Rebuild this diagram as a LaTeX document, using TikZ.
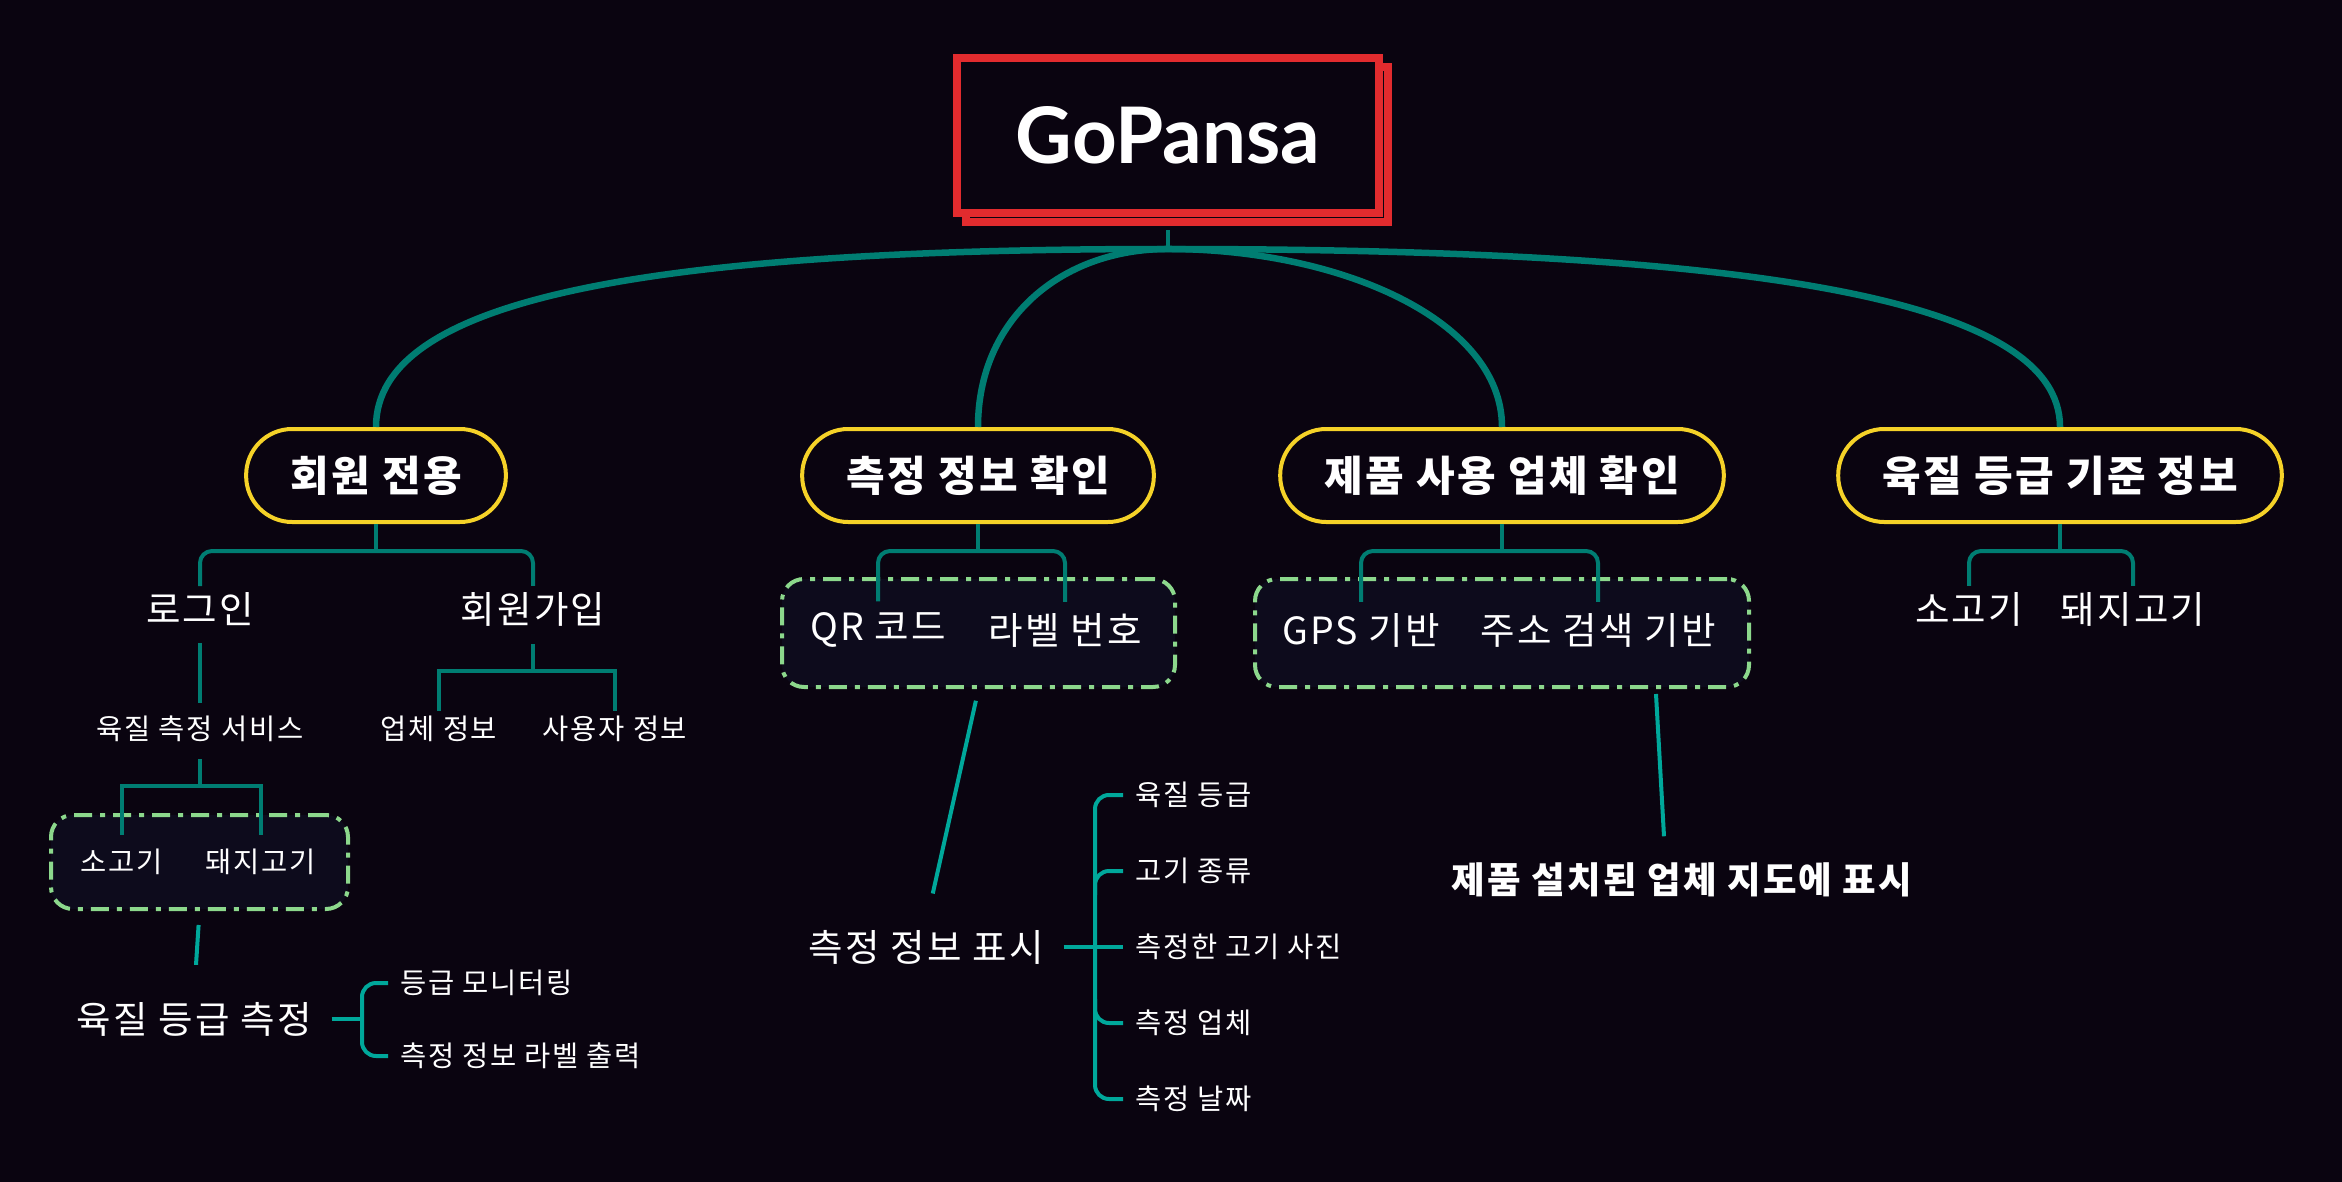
\documentclass[tikz,border=0pt]{standalone}
\usepackage{fontspec}
\setmainfont{Noto Sans CJK KR}[LetterSpace=6]
\newfontfamily\logofont{Lato}
\usetikzlibrary{positioning,calc}

\definecolor{bgdark}{RGB}{10,4,16}
\definecolor{boxdark}{RGB}{13,11,28}
\definecolor{tealdark}{RGB}{0,125,114}
\definecolor{tealbright}{RGB}{0,168,155}
\definecolor{pillgold}{RGB}{245,210,40}
\definecolor{logored}{RGB}{226,43,46}
\definecolor{dashgreen}{RGB}{140,216,140}

\tikzset{
  rootbox/.style={draw=logored, line width=8pt, fill=bgdark, minimum width=422pt,
    minimum height=155pt, text=white, font=\logofont\bfseries\fontsize{78}{86}\selectfont},
  pill/.style={draw=pillgold, line width=4pt, fill=bgdark, rounded corners=46pt,
    minimum height=93pt, inner xsep=44pt, text=white, font=\bfseries\fontsize{42}{50}\selectfont},
  grpbox/.style={draw=dashgreen, line width=4pt, fill=boxdark, rounded corners=22pt,
    dash pattern=on 18pt off 8pt on 5pt off 8pt},
  bigtxt/.style={text=white, inner sep=6pt, font=\fontsize{37.5}{44}\selectfont},
  smalltxt/.style={text=white, inner sep=5pt, font=\fontsize{28.5}{34}\selectfont},
  maptxt/.style={text=white, font=\bfseries\fontsize{36.5}{42}\selectfont},
  trunk/.style={draw=tealdark, line width=6.5pt},
  bar/.style={draw=tealdark, line width=4pt},
  brk/.style={draw=tealbright, line width=4pt},
}

\begin{document}
\begin{tikzpicture}[x=1pt, y=-1pt]
    \fill[bgdark] (0,0) rectangle (2342,1182);
    \useasboundingbox (0,0) rectangle (2342,1182);

    % root
    \node[rootbox] (rootshadow) at (1177,144.5) {};
    \node[rootbox] (root) at (1168,135.5) {GoPansa};
    \coordinate (hub) at (1168,249);
    \draw[bar] ([yshift=-13pt]root.south) -- (hub);

    % main branches
    \node[pill] (member) at (376,475.5) {회원 전용};
    \node[pill] (measure) at (978,475.5) {측정 정보 확인};
    \node[pill] (shop) at (1502,475.5) {제품 사용 업체 확인};
    \node[pill] (gradeinfo) at (2060,475.5) {육질 등급 기준 정보};

    \draw[trunk] (hub) .. controls (640,249) and (376,300) .. (member.north);
    \draw[trunk] (hub) .. controls (1060,249) and (978,320) .. (measure.north);
    \draw[trunk] (hub) .. controls (1340,249) and (1502,320) .. (shop.north);
    \draw[trunk] (hub) .. controls (1760,249) and (2060,300) .. (gradeinfo.north);

    % 회원 전용
    \node[bigtxt] (login) at (200,609) {로그인};
    \node[bigtxt] (signup) at (533,609) {회원가입};
    \draw[bar] (member.south) -- ++(0,27) coordinate (mb);
    \draw[bar, rounded corners=12pt] (login.north) |- (mb) -| (signup.north);

    \node[smalltxt] (service) at (200,729) {육질 측정 서비스};
    \node[smalltxt] (bizinfo) at (439,729) {업체 정보};
    \node[smalltxt] (userinfo) at (615,729) {사용자 정보};
    \draw[bar, shorten <=11pt, shorten >=8pt] (login.south) -- (service.north);
    \draw[bar] ([yshift=-12pt]signup.south) -- ++(0,27) coordinate (sb);
    \draw[bar] (bizinfo.north) |- (sb) -| (userinfo.north);

    \node[grpbox, minimum width=297pt, minimum height=94pt] (meatbox) at (199.5,862) {};
    \node[smalltxt] (cow1) at (122,862) {소고기};
    \node[smalltxt] (pig1) at (261,862) {돼지고기};
    \draw[bar] ([yshift=-12pt]service.south) -- ++(0,27) coordinate (vb);
    \draw[bar] ([yshift=9pt]cow1.north) |- (vb) -| ([yshift=9pt]pig1.north);

    \node[bigtxt] (gradeset) at (194,1019) {육질 등급 측정};
    \draw[brk, shorten <=14pt, shorten >=31pt] (meatbox.south) -- (gradeset.north);

    \node[smalltxt, anchor=west] (monitor) at (395,983) {등급 모니터링};
    \node[smalltxt, anchor=west] (labelout) at (395,1056) {측정 정보 라벨 출력};
    \coordinate (gb) at (362,1019);
    \draw[brk] ([xshift=14pt]gradeset.east) -- (gb);
    \draw[brk, rounded corners=14pt] ([xshift=-7pt]monitor.west) -| (gb) |- ([xshift=-7pt]labelout.west);

    % 측정 정보 확인
    \node[grpbox, minimum width=393pt, minimum height=108pt] (codebox) at (978.5,633) {};
    \node[bigtxt] (qr) at (878,630) {QR 코드};
    \node[bigtxt] (labelno) at (1065,630) {라벨 번호};
    \draw[bar] (measure.south) -- ++(0,27) coordinate (cb);
    \draw[bar, rounded corners=12pt] ([yshift=5pt]qr.north) |- (cb) -| ([yshift=5pt]labelno.north);

    \node[bigtxt] (display) at (926,947) {측정 정보 표시};
    \draw[brk, shorten <=12pt, shorten >=31pt] (codebox.south) -- (display.north);

    \foreach \txt [count=\i] in {육질 등급, 고기 종류, 측정한 고기 사진, 측정 업체, 측정 날짜}
        \node[smalltxt, anchor=west] (item\i) at (1130,{795+(\i-1)*76}) {\txt};
    \coordinate (dv) at (1095,947);
    \draw[brk] ([xshift=14pt]display.east) -- ([xshift=-7pt]item3.west);
    \draw[brk, rounded corners=14pt] ([xshift=-7pt]item1.west) -| (dv) |- ([xshift=-7pt]item5.west);
    \draw[brk, rounded corners=14pt] ($(item2.west -| dv)+(0,24)$) |- ([xshift=-7pt]item2.west);
    \draw[brk, rounded corners=14pt] ($(item4.west -| dv)+(0,-24)$) |- ([xshift=-7pt]item4.west);

    % 제품 사용 업체 확인
    \node[grpbox, minimum width=494pt, minimum height=108pt] (gpsbox) at (1502,633) {};
    \node[bigtxt] (gps) at (1361,630) {GPS 기반};
    \node[bigtxt] (addr) at (1598,630) {주소 검색 기반};
    \draw[bar] (shop.south) -- ++(0,27) coordinate (pb);
    \draw[bar, rounded corners=12pt] ([yshift=5pt]gps.north) |- (pb) -| ([yshift=5pt]addr.north);

    \node[maptxt] (map) at (1682,880) {제품 설치된 업체 지도에 표시};
    \draw[brk] ([xshift=154pt,yshift=-5pt]gpsbox.south) -- ([xshift=-18pt,yshift=23pt]map.north);

    % 육질 등급 기준 정보
    \node[bigtxt] (cow2) at (1969,609) {소고기};
    \node[bigtxt] (pig2) at (2133,609) {돼지고기};
    \draw[bar] (gradeinfo.south) -- ++(0,27) coordinate (gi);
    \draw[bar, rounded corners=12pt] (cow2.north) |- (gi) -| (pig2.north);
\end{tikzpicture}
\end{document}
